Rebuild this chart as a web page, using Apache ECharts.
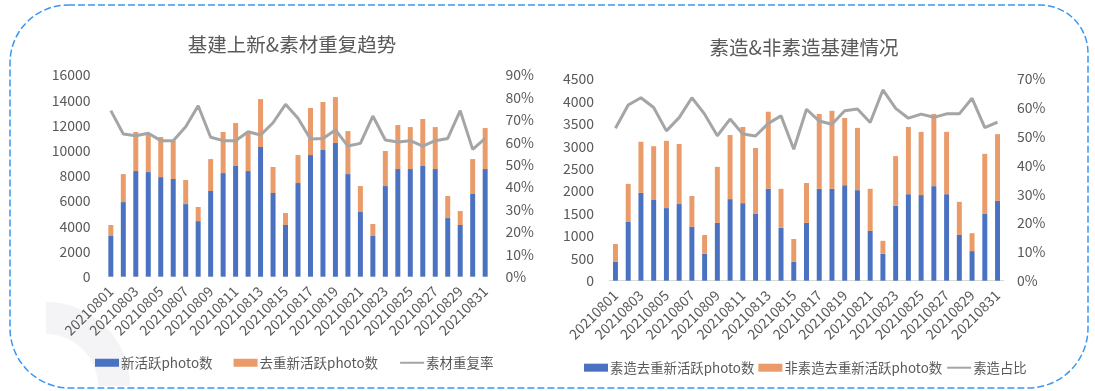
<!DOCTYPE html>
<html>
<head>
<meta charset="utf-8">
<script src="https://cdn.jsdelivr.net/npm/echarts@6/dist/echarts.min.js"></script>
<style>
html,body{margin:0;padding:0;background:#fff;}
#c{width:1095px;height:391px;}
</style>
</head>
<body>
<div id="c"></div>
<script>
const dates = ['20210801','20210802','20210803','20210804','20210805','20210806','20210807','20210808','20210809','20210810','20210811','20210812','20210813','20210814','20210815','20210816','20210817','20210818','20210819','20210820','20210821','20210822','20210823','20210824','20210825','20210826','20210827','20210828','20210829','20210830','20210831'];

// Left chart
const newActive = [3230,5920,8380,8300,7900,7750,5760,4410,6800,8220,8780,8380,10290,6640,4100,7430,9650,10050,10600,8140,5130,3230,7190,8540,8540,8780,8540,4650,4100,6560,8540];
const dedupActive = [870,2220,3100,3070,3180,3060,1910,1120,2530,3260,3410,3040,3800,2060,950,2220,3730,3810,3650,3410,2060,950,2780,3490,3330,3730,3330,1750,1110,2770,3250];
const repeatRate = [74.1,63.7,62.9,64.0,60.7,60.7,66.9,76.3,62.2,60.7,60.7,64.7,63.2,68.7,76.9,70.7,61.4,61.7,65.5,58.3,59.5,71.7,61.0,60.1,60.7,58.3,60.7,61.7,74.1,56.8,61.7];

// Right chart
const suzao = [420,1310,1960,1800,1620,1710,1200,600,1290,1820,1730,1490,2050,1180,420,1290,2050,2050,2130,2020,1110,600,1670,1930,1910,2110,1930,1020,660,1490,1780];
const feiSuzao = [400,850,1140,1200,1500,1340,690,420,1250,1430,1700,1470,1720,870,510,890,1670,1740,1500,1390,940,290,1110,1500,1410,1610,1390,740,400,1340,1490];
const suzaoRatio = [52.9,61.0,63.5,60.1,52.0,56.6,63.5,57.8,50.3,56.1,50.9,50.2,54.6,57.2,45.6,59.5,55.4,54.3,59.0,59.6,54.9,66.2,59.8,56.4,57.8,56.7,57.9,57.9,63.3,53.1,55.0];

const FONT = '"Noto Sans CJK SC","Noto Sans",sans-serif';
const TXT = '#595959';
const BLUE = '#4A72C0';
const ORANGE = '#E99B6A';
const GRAY = '#A5A5A5';

const chart = echarts.init(document.getElementById('c'), null, {renderer:'canvas'});

const pct = v => Math.round(v) + '%';
const num = v => String(v);

function xAxis(gridIndex, showLine){
  return {
    type:'category', gridIndex, data: dates,
    axisLine:{show:showLine, lineStyle:{color:'#D9D9D9', width:1}},
    axisTick:{show:false},
    axisLabel:{rotate:45, interval:1, color:TXT, fontSize:14, fontFamily:FONT, margin:12},
    splitLine:{show:false}
  };
}
function yAxis(gridIndex, max, interval, pos, fmt, margin){
  return {
    type:'value', gridIndex, min:0, max, interval, position:pos,
    axisLine:{show:false}, axisTick:{show:false}, splitLine:{show:false},
    axisLabel:{color:TXT, fontSize:14, fontFamily:FONT, margin, formatter: fmt}
  };
}

const option = {
  backgroundColor:'#fff',
  animation:false,
  textStyle:{fontFamily:FONT},
  title:[
    {text:'基建上新&素材重复趋势', left:292, top:35, padding:0, textAlign:'center',
     textStyle:{fontSize:19.5, fontWeight:'normal', color:TXT, fontFamily:FONT}},
    {text:'素造&非素造基建情况', left:804, top:38, padding:0, textAlign:'center',
     textStyle:{fontSize:19.5, fontWeight:'normal', color:TXT, fontFamily:FONT}}
  ],
  legend:[
    {left:95, top:356, padding:0, itemWidth:24, itemHeight:8, itemGap:21,
     textStyle:{fontSize:13.5, color:TXT, fontFamily:FONT, padding:[0,0,0,-3]},
     data:[{name:'新活跃photo数', icon:'rect'},{name:'去重新活跃photo数', icon:'rect'},{name:'素材重复率', itemStyle:{opacity:0}}]},
    {left:584, top:361, padding:0, itemWidth:24, itemHeight:8, itemGap:4,
     textStyle:{fontSize:13.4, color:TXT, fontFamily:FONT, padding:[0,0,0,-3]},
     data:[{name:'素造去重新活跃photo数', icon:'rect'},{name:'非素造去重新活跃photo数', icon:'rect'},{name:'素造占比', itemStyle:{opacity:0}}]}
  ],
  grid:[
    {left:104.6, top:75, width:386.8, height:201.7},
    {left:609.1, top:79, width:394.8, height:201.7}
  ],
  xAxis:[xAxis(0,false), xAxis(1,true)],
  yAxis:[
    yAxis(0,16000,2000,'left',num,14),
    yAxis(0,90,10,'right',pct,14),
    yAxis(1,4500,500,'left',num,15),
    yAxis(1,70,10,'right',pct,13)
  ],
  series:[
    {name:'新活跃photo数', type:'bar', stack:'a', xAxisIndex:0, yAxisIndex:0, data:newActive, barWidth:'40%', itemStyle:{color:BLUE}},
    {name:'去重新活跃photo数', type:'bar', stack:'a', xAxisIndex:0, yAxisIndex:0, data:dedupActive, barWidth:'40%', itemStyle:{color:ORANGE}},
    {name:'素材重复率', type:'line', xAxisIndex:0, yAxisIndex:1, data:repeatRate, symbol:'none', z:5,
     lineStyle:{color:GRAY, width:3}, itemStyle:{color:GRAY}},
    {name:'素造去重新活跃photo数', type:'bar', stack:'b', xAxisIndex:1, yAxisIndex:2, data:suzao, barWidth:'39%', itemStyle:{color:BLUE}},
    {name:'非素造去重新活跃photo数', type:'bar', stack:'b', xAxisIndex:1, yAxisIndex:2, data:feiSuzao, barWidth:'39%', itemStyle:{color:ORANGE}},
    {name:'素造占比', type:'line', xAxisIndex:1, yAxisIndex:3, data:suzaoRatio, symbol:'none', z:5,
     lineStyle:{color:GRAY, width:3}, itemStyle:{color:GRAY}}
  ],
  graphic:[
    {type:'sector', z:-10, silent:true,
     shape:{cx:46, cy:386, r:84, r0:52, startAngle:-Math.PI/2, endAngle:0},
     style:{fill:'#F4F3F5'}},
    {type:'rect', z:100, silent:true,
     shape:{x:10, y:5, width:1078, height:383, r:[58,48,60,60]},
     style:{fill:'none', stroke:'#3B96F2', lineWidth:1.5, lineDash:[7,3]}}
  ]
};
chart.setOption(option);
</script>
</body>
</html>
